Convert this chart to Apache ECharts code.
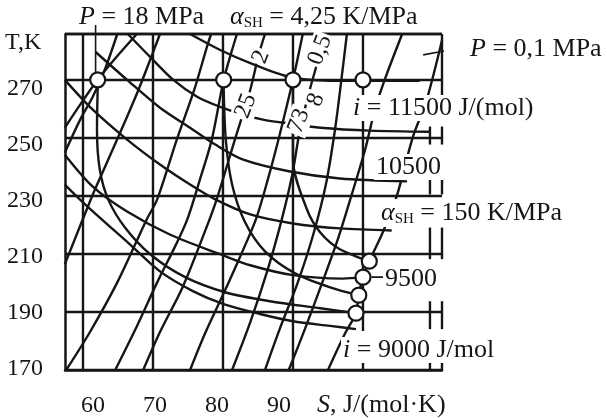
<!DOCTYPE html>
<html><head><meta charset="utf-8">
<script src="https://cdn.jsdelivr.net/npm/echarts@6/dist/echarts.min.js"></script>
<style>html,body{margin:0;padding:0;background:#fff}#c{width:607px;height:418px}</style>
</head><body><div id="c"></div>
<script>
const INK = '#161616';
const FONT = '"Liberation Serif","Times New Roman",serif';

// axis extents (S in J/(mol·K), T in K)
const S_MIN = 57.43, S_MAX = 111.29, T_MIN = 170, T_MAX = 285.8;
const sGrid = [60, 70, 80, 90];
const sTickLabels = [60, 70, 80, 90];
const tTickLabels = [170, 190, 210, 230, 250, 270];

// isenthalps [S, T]
const isenthalp_11500 = [[75.3,285.8],[79.6,280.3],[83.9,275.8],[89.6,271.0],[95.3,269.7],[108.1,269.7]];
const isenthalp_11000 = [[66.4,285.8],[70.0,276.9],[72.9,270.0],[76.3,264.2],[79.6,260.7],[82.9,258.0],[85.7,256.3],[89.6,254.9],[93.9,253.5],[101.0,252.5],[109.6,252.1]];
const isenthalp_10500 = [[61.8,279.6],[66.3,270.0],[71.0,260.4],[75.3,253.5],[78.9,247.7],[82.9,242.5],[89.6,238.4],[96.7,236.0],[106.3,235.0]];
const isenthalp_10000 = [[57.4,270.0],[61.4,259.7],[66.3,249.4],[71.0,240.8],[75.3,233.9],[78.9,228.8],[83.9,223.6],[90.0,220.5],[96.7,218.8],[104.1,218.1]];
const isenthalp_9500  = [[57.4,244.2],[61.4,233.2],[66.3,224.6],[72.4,216.7],[79.6,209.9],[83.9,206.1],[90.0,202.7],[97.1,201.5],[100.0,202.0]];
const isenthalp_9000  = [[57.4,233.9],[60.3,227.1],[66.7,213.3],[71.0,204.0],[75.7,197.2],[80.1,192.7],[85.3,189.3],[90.0,186.8],[95.3,185.2],[99.0,184.1]];

// isobars [S, T]
const isobar_a  = [[57.4,244.9],[59.6,256.3],[61.4,264.2],[63.1,273.4],[64.9,285.8]];
const isobar_18 = [[57.4,253.5],[59.7,261.8],[62.1,270.0],[64.9,278.2],[67.7,285.8]];
const isobar_b  = [[57.4,206.4],[61.4,230.5],[62.9,238.7],[66.3,257.3],[68.1,267.6],[71.0,285.8]];
const isobar_c  = [[57.6,170.0],[61.0,183.1],[64.9,200.2],[69.1,221.9],[70.6,228.8],[73.4,249.4],[75.9,266.6],[77.7,281.3],[78.3,285.8]];
const isobar_d  = [[64.6,170.0],[67.7,185.1],[70.6,200.2],[73.3,213.3],[74.9,221.9],[76.7,235.6],[78.4,249.4],[80.1,270.0],[81.3,280.3],[82.0,285.8]];
const isobar_e  = [[68.6,170.0],[71.0,183.1],[74.3,198.9],[77.7,219.5],[79.1,228.8],[81.7,249.4],[83.9,266.6],[85.1,278.6],[86.0,285.8]];
const isobar_f  = [[75.3,170.0],[77.4,182.4],[79.9,195.4],[82.4,208.8],[84.7,221.9],[86.4,235.6],[88.1,251.1],[90.0,270.0],[91.4,285.8]];
const isobar_g  = [[81.3,170.0],[83.9,186.5],[86.4,204.7],[88.4,221.9],[89.9,237.4],[91.0,252.8],[92.4,266.6],[93.6,276.9],[94.6,285.8]];
const isobar_h  = [[86.0,170.0],[88.1,184.1],[90.6,199.6],[92.9,216.7],[94.7,233.9],[96.0,252.8],[97.0,271.7],[97.7,285.8]];
const isobar_k  = [[89.4,170.0],[91.7,184.1],[94.1,199.6],[96.4,215.0],[98.4,230.5],[100.3,245.9],[101.7,259.7],[103.1,270.0],[105.6,285.8]];
const isobar_01 = [[95.0,170.0],[97.4,182.4],[99.0,189.6],[99.4,195.8],[100.0,202.0],[100.9,207.5],[102.9,217.8],[104.9,230.5],[107.1,250.1],[109.1,263.1],[111.3,283.7]];

// alpha_SH arcs [S, T]
const arc_1 = [[62.1,267.3],[62.0,252.8],[62.4,239.1],[63.6,228.8],[66.0,219.1],[69.6,209.9],[74.6,202.0],[80.3,196.8],[86.7,193.7],[93.9,191.3],[99.0,189.6]];
const arc_2 = [[80.1,267.3],[80.4,249.4],[81.3,233.9],[83.1,221.2],[86.0,210.9],[90.3,203.3],[95.3,198.5],[99.4,195.8]];
const arc_3 = [[90.0,267.3],[90.0,242.5],[92.0,225.3],[93.9,217.4],[96.7,211.6],[100.9,207.5]];

// marked points
const circles = [[62.1,270.0],[80.1,270.0],[90.0,270.0],[100.0,270.0],[99.0,189.6],[99.4,195.8],[100.0,202.0],[100.9,207.5]];

// S = 100 partial line, frame pieces, leaders
const s100_upper = [[100,285.8],[100,183.4]];
const s100_tick = [[100,173.8],[100,170]];
const rightOuter = [[285.8,264.2],[253.9,247.7],[236.0,230.5],[219.1,208.2],[193.7,184.1],[177.2,170]];
const rightInner = [[253.9,247.7],[236.0,230.5],[219.1,208.2],[193.7,184.1],[177.2,170]];
const leader_P18 = [[61.8,288.9],[61.8,272.7]];
const leader_P01 = [[113.9,281.0],[108.6,278.6]];
const leader_9500 = [[101.2,202.0],[102.9,202.0]];

function ln(data, opt) {
  opt = opt || {};
  return {
    type: 'line', data: data, symbol: 'none', silent: true, animation: false,
    smooth: opt.smooth === undefined ? 0.3 : opt.smooth,
    clip: opt.clip === undefined ? true : opt.clip,
    lineStyle: { color: INK, width: opt.w || 2.4 }, z: 3
  };
}

const series = [];
sGrid.forEach(s => series.push(ln([[s, T_MIN], [s, T_MAX]], {smooth: false})));
series.push(ln([[S_MIN, T_MAX], [S_MAX, T_MAX]], {smooth: false, clip: false}));
series.push(ln(s100_upper, {smooth: false}));
series.push(ln(s100_tick, {smooth: false}));
rightOuter.forEach(r => series.push(ln([[S_MAX, r[0]], [S_MAX, r[1]]], {smooth: false, clip: false})));
rightInner.forEach(r => series.push(ln([[109.57, r[0]], [109.57, r[1]]], {smooth: false, clip: false})));
[isenthalp_11500, isenthalp_11000, isenthalp_10500, isenthalp_10000, isenthalp_9500, isenthalp_9000].forEach(d => series.push(ln(d)));
[isobar_a, isobar_18, isobar_b, isobar_c, isobar_d, isobar_e, isobar_f, isobar_g, isobar_h, isobar_k, isobar_01].forEach(d => series.push(ln(d)));
[arc_1, arc_2, arc_3].forEach(d => series.push(ln(d)));
series.push(ln(leader_P18, {smooth: false, clip: false, w: 1.6}));
series.push(ln(leader_P01, {smooth: false, clip: false, w: 1.6}));
series.push(ln(leader_9500, {smooth: false, w: 1.6}));
series.push({
  type: 'scatter', data: circles, symbol: 'circle', symbolSize: 15, silent: true, clip: false, z: 6,
  itemStyle: { color: '#ffffff', opacity: 1, borderColor: INK, borderWidth: 2.2 }, animation: false
});

const RICH = {
  it: { fontStyle: 'italic', fontSize: 26, fontFamily: FONT, fill: INK },
  sub: { fontSize: 15, fontFamily: FONT, fill: INK, padding: [13, 0, 0, 0] }
};
function txt(x, y, text, o) {
  o = o || {};
  const st = { text: text, fontSize: o.size || 26, fontFamily: FONT, fill: INK,
    align: o.align || 'left', verticalAlign: 'middle', rich: RICH };
  if (o.bg) { st.backgroundColor = '#fff'; st.padding = [0, 2]; }
  return { type: 'text', x: x, y: y, rotation: o.rot || 0, z: 100, silent: true, style: st };
}
const graphics = [
  txt(5, 43, 'T,K', {size: 24}),
  txt(79, 17, '{it|P} = 18 MPa'),
  txt(230, 17, '{it|α}{sub|SH} = 4,25 K/MPa'),
  txt(470, 49, '{it|P} = 0,1 MPa'),
  txt(351, 108, '{it|i} = 11500 J/(mol)', {bg: true}),
  txt(374, 167, '10500', {bg: true}),
  txt(379, 213, '{it|α}{sub|SH} = 150 K/MPa', {bg: true}),
  txt(383, 279, '9500', {bg: true}),
  txt(341, 350, '{it|i} = 9000 J/mol', {bg: true}),
  txt(317, 405, '{it|S}, J/(mol·K)'),
  txt(261, 57, '2', {bg: true, align: 'center', rot: 1.2, size: 24}),
  txt(320, 50, '0,5', {bg: true, align: 'center', rot: 1.2, size: 24}),
  txt(246, 106, '25', {bg: true, align: 'center', rot: 1.2, size: 24}),
  txt(299, 121, '73', {bg: true, align: 'center', rot: 1.2, size: 24}),
  txt(316, 100, '8', {bg: true, align: 'center', rot: 1.2, size: 24})
];

const chart = echarts.init(document.getElementById('c'), null, {renderer: 'canvas'});
chart.setOption({
  animation: false,
  backgroundColor: '#fff',
  textStyle: { fontFamily: FONT },
  grid: { left: 65, top: 34, right: 165, bottom: 47, containLabel: false },
  xAxis: [
    { type: 'value', min: S_MIN, max: S_MAX, axisLine: { show: true, onZero: false, lineStyle: { color: INK, width: 2.5 } },
      axisTick: { show: false }, axisLabel: { show: false }, splitLine: { show: false } },
    { type: 'value', position: 'bottom', min: 55.48, max: 116.29, axisLine: { show: false, onZero: false },
      axisTick: { show: false }, splitLine: { show: false },
      axisLabel: { customValues: sTickLabels, margin: 24, fontSize: 24, color: INK, fontFamily: FONT } }
  ],
  yAxis: [
    { type: 'value', min: T_MIN, max: T_MAX, interval: 20, axisLine: { show: true, onZero: false, lineStyle: { color: INK, width: 2.5 } },
      axisTick: { show: false }, axisLabel: { show: false },
      splitLine: { show: true, lineStyle: { color: INK, width: 2.4 } } },
    { type: 'value', position: 'left', min: 169.65, max: 289.43, axisLine: { show: false, onZero: false },
      axisTick: { show: false }, splitLine: { show: false },
      axisLabel: { customValues: tTickLabels, margin: 22, fontSize: 24, color: INK, fontFamily: FONT } }
  ],
  series: series,
  graphic: graphics
});
</script>
</body></html>
